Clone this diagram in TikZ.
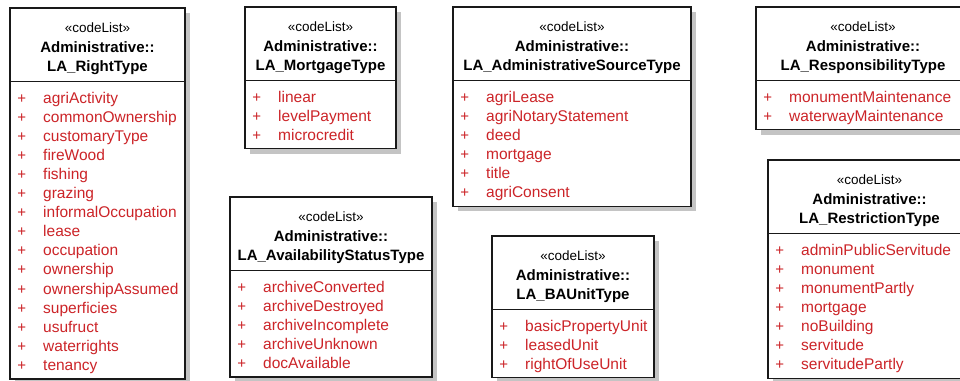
\documentclass[tikz,border=0pt]{standalone}
\usepackage{fontspec}
\setmainfont{Liberation Sans}
\definecolor{litred}{RGB}{204,36,40}
\definecolor{shadowgrey}{RGB}{196,196,196}

% One UML code list: #1 id, #2 left, #3 right, #4 top, #5 class name,
% #6 number of literals, #7 literals
\newcommand{\umlcodelist}[7]{%
  \pgfmathsetmacro{\bxl}{#2}%
  \pgfmathsetmacro{\bxr}{#3}%
  \pgfmathsetmacro{\byt}{#4}%
  \pgfmathsetmacro{\bys}{#4+73.5}%
  \pgfmathsetmacro{\byb}{#4+73.5+#6*19.1+11}%
  \pgfmathsetmacro{\bxc}{(#2+#3)/2}%
  \pgfmathsetmacro{\bw}{#3-#2}%
  \pgfmathsetmacro{\bh}{73.5+#6*19.1+11}%
  \fill[shadowgrey] (\bxl+5,\byt+5) rectangle (\bxr+5,\byb+5);
  \node[frame, minimum width=\bw pt, minimum height=\bh pt] (#1) at (\bxl,\byt) {};
  \draw[frameline] (\bxl,\bys) -- (\bxr,\bys);
  \node[stereo] (#1-st) at (\bxc,\byt+24.5) {«codeList»};
  \node[titletext] (#1-pk) at (\bxc,\byt+44.5) {Administrative::};
  \node[titletext] (#1-nm) at (\bxc,\byt+63) {#5};
  \foreach \lit [count=\i] in {#7} {
    \node[plussign] (#1-p\i) at (\bxl+11.7,\bys+21.5+\i*19.1-19.1) {+};
    \node[literal] (#1-l\i) at (\bxl+33,\bys+21.5+\i*19.1-19.1) {\lit};
  }%
}

\begin{document}
\begin{tikzpicture}[x=1pt,y=-1pt,
  frame/.style={draw=black!90, line width=1.2pt, fill=white, anchor=north west,
    inner sep=0pt, outer sep=0pt},
  frameline/.style={draw=black!90, line width=1.2pt},
  stereo/.style={anchor=base, inner sep=0pt, font=\fontsize{13.5}{16}\selectfont},
  titletext/.style={anchor=base, inner sep=0pt, font=\fontsize{15}{18}\selectfont\bfseries},
  plussign/.style={anchor=base, inner sep=0pt, text=litred, font=\fontsize{15}{18}\selectfont},
  literal/.style={anchor=base west, inner sep=0pt, text=litred, font=\fontsize{15.5}{18}\selectfont}]
\useasboundingbox (0,0) rectangle (960,380);
\begin{scope}
\clip (0,0) rectangle (960,380);
\umlcodelist{right}{10}{185}{8}{LA\_RightType}{15}%
  {agriActivity,commonOwnership,customaryType,fireWood,fishing,grazing,informalOccupation,lease,occupation,ownership,ownershipAssumed,superficies,usufruct,waterrights,tenancy}
\umlcodelist{mortgage}{245}{396}{7}{LA\_MortgageType}{3}%
  {linear,levelPayment,microcredit}
\umlcodelist{source}{453}{691}{7}{LA\_AdministrativeSourceType}{6}%
  {agriLease,agriNotaryStatement,deed,mortgage,title,agriConsent}
\umlcodelist{responsibility}{756}{970}{7}{LA\_ResponsibilityType}{2}%
  {monumentMaintenance,waterwayMaintenance}
\umlcodelist{restriction}{768}{971}{160}{LA\_RestrictionType}{7}%
  {adminPublicServitude,monument,monumentPartly,mortgage,noBuilding,servitude,servitudePartly}
\umlcodelist{availability}{230}{432}{197}{LA\_AvailabilityStatusType}{5}%
  {archiveConverted,archiveDestroyed,archiveIncomplete,archiveUnknown,docAvailable}
\umlcodelist{baunit}{492}{654}{236}{LA\_BAUnitType}{3}%
  {basicPropertyUnit,leasedUnit,rightOfUseUnit}
\end{scope}
\end{tikzpicture}
\end{document}
